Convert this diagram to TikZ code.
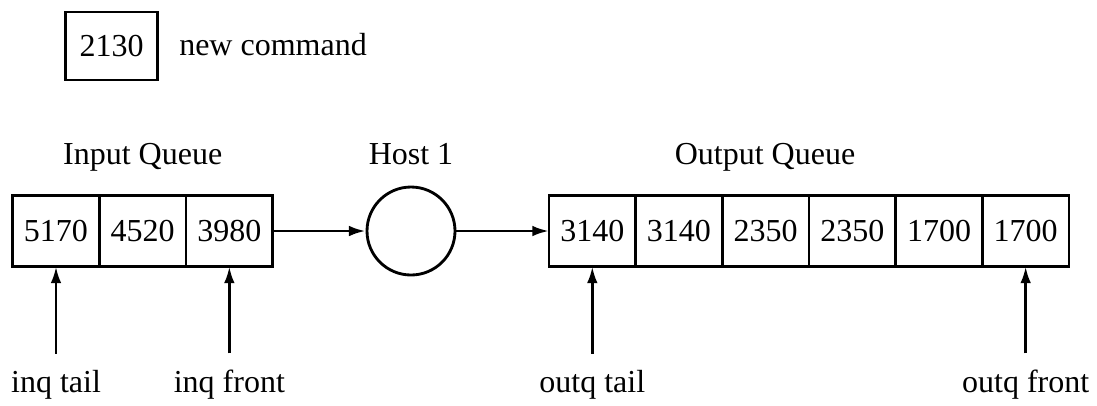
\documentclass[tikz,border=0pt]{standalone}
\usepackage{fontspec}
\setmainfont{Liberation Serif}
\usetikzlibrary{arrows.meta}

\begin{document}
\begin{tikzpicture}[x=0.3pt,y=-0.3pt,
        font=\fontsize{9.6}{11.5}\selectfont,
        cell/.style={draw,line width=0.85pt,minimum width=26pt,minimum height=21.3pt,
          inner sep=0pt,outer sep=0pt},
        host/.style={draw,line width=0.85pt,circle,minimum size=26.4pt,inner sep=0pt},
        lbl/.style={anchor=base,inner sep=1pt},
        arr/.style={-{Latex[length=5pt,width=3.2pt]},line width=0.85pt}
      ]
        \useasboundingbox (0,0) rectangle (1097,405);
        \coordinate (top) at (0,164);
        \coordinate (bot) at (0,392);
        % legend
        \node[cell,minimum width=27.6pt,minimum height=20.4pt] (cmd) at (111.5,46) {2130};
        \node[lbl] (cmdtext) at (273,55) {new command};
        % queues
        \foreach \val [count=\i] in {5170,4520,3980}
          \node[cell] (in\i) at ({56+86.67*(\i-1)},231) {\val};
        \foreach \val [count=\i] in {3140,3140,2350,2350,1700,1700}
          \node[cell] (out\i) at ({592.3+86.67*(\i-1)},231) {\val};
        \node[host] (host) at (411,231) {};
        \node[lbl] (inlabel) at (in2 |- top) {Input Queue};
        \node[lbl] (hostlabel) at (host |- top) {Host 1};
        \node[lbl] (outlabel) at (765,164) {Output Queue};
        \draw[arr] (in3) -- (host);
        \draw[arr] (host) -- (out1);
        % pointers
        \node[lbl] (inqtail) at (in1 |- bot) {inq tail};
        \node[lbl] (inqfront) at (in3 |- bot) {inq front};
        \node[lbl] (outqtail) at (out1 |- bot) {outq tail};
        \node[lbl] (outqfront) at (out6 |- bot) {outq front};
        \draw[arr] ([yshift=3.6pt]inqtail.north) -- (in1.south);
        \draw[arr] ([yshift=3.6pt]inqfront.north) -- (in3.south);
        \draw[arr] ([yshift=3.6pt]outqtail.north) -- (out1.south);
        \draw[arr] ([yshift=3.6pt]outqfront.north) -- (out6.south);
      \end{tikzpicture}
\end{document}
